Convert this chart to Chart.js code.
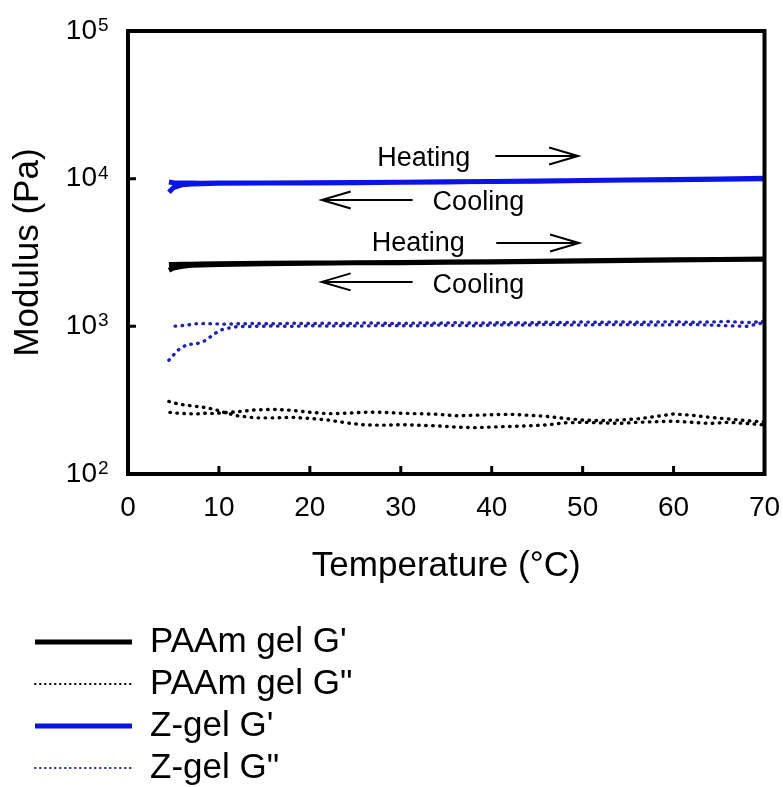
<!DOCTYPE html>
<html><head><meta charset="utf-8">
<script src="https://cdn.jsdelivr.net/npm/chart.js@4/dist/chart.umd.min.js"></script>
<style>html,body{margin:0;padding:0;background:#fff;}</style>
</head><body>
<canvas id="c" width="783" height="787"></canvas>
<script>
const FONT = "'Liberation Sans', Arial, Helvetica, sans-serif";

// ---- data ----
const seriesLabels = ["PAAm gel G'", 'PAAm gel G"', "Z-gel G'", 'Z-gel G"'];

// storage modulus G' (heating up, then cooling down)
const tempGpHeat = [4.5, 5, 6, 7, 8, 10, 15, 20, 25, 30, 35, 40, 45, 50, 55, 60, 65, 70];
const tempGpCool = [70, 65, 60, 55, 50, 45, 40, 35, 30, 25, 20, 15, 10, 8, 7, 6, 5, 4.5];
const paamGpHeat = [2400, 2480, 2550, 2590, 2600, 2620, 2650, 2670, 2690, 2700, 2720, 2730, 2750, 2770, 2790, 2810, 2830, 2850];
const paamGpCool = [2860, 2840, 2820, 2800, 2780, 2760, 2740, 2730, 2710, 2700, 2680, 2670, 2650, 2640, 2630, 2630, 2625, 2620];
const zgelGpHeat = [8100, 8700, 9100, 9200, 9250, 9300, 9330, 9350, 9400, 9450, 9500, 9550, 9620, 9700, 9780, 9850, 9920, 10000];
const zgelGpCool = [10050, 9950, 9880, 9800, 9730, 9650, 9580, 9520, 9470, 9420, 9380, 9350, 9330, 9320, 9330, 9350, 9400, 9500];

// loss modulus G" (values listed in ascending temperature for both runs)
const tempGdd = [4.5, 5.5, 6.5, 7.5, 8.5, 9.5, 10.5, 12, 14, 16, 18, 20, 22, 24, 26, 28, 30, 32, 34, 36, 38, 40, 42, 44, 46, 48, 50, 52, 54, 56, 58, 60, 62, 64, 66, 68, 70];
const paamGddHeat = [310, 298, 292, 287, 282, 274, 262, 248, 240, 240, 242, 238, 232, 222, 215, 214, 216, 214, 212, 208, 206, 208, 210, 212, 215, 222, 224, 222, 220, 224, 226, 228, 224, 220, 224, 220, 215];
const paamGddCool = [262, 258, 256, 255, 258, 257, 260, 264, 272, 274, 270, 262, 256, 258, 262, 262, 258, 256, 254, 248, 250, 252, 254, 250, 246, 238, 232, 230, 232, 236, 245, 255, 250, 242, 236, 230, 225];
const zgelGddHeat = [590, 690, 755, 760, 800, 890, 960, 995, 1000, 1005, 1000, 1010, 1005, 1010, 1005, 1015, 1010, 1010, 1020, 1015, 1010, 1020, 1025, 1020, 1030, 1025, 1020, 1030, 1025, 1030, 1020, 1025, 1030, 1020, 1010, 1000, 1060];
const zgelGddCool = [1000, 1005, 1020, 1040, 1045, 1040, 1035, 1040, 1045, 1040, 1050, 1045, 1050, 1045, 1055, 1050, 1045, 1055, 1050, 1060, 1050, 1055, 1060, 1055, 1065, 1060, 1070, 1065, 1070, 1065, 1070, 1075, 1065, 1070, 1080, 1060, 1080];

// axes
const xMin = 0, xMax = 70, xStep = 10;
const xTickMarks = [10, 20, 30, 40, 50, 60];
const yTickValues = [100, 1000, 10000, 100000];
const yTickBase = '10';
const yTickExponents = ['2', '3', '4', '5'];
const yTickMarks = [1000, 10000];
const xTitle = 'Temperature (°C)';
const yTitle = 'Modulus (Pa)';

// annotations: label, text x (°C), text y (Pa), arrow from/to x (°C), arrow y (Pa)
const annLabels = ['Heating', 'Cooling', 'Heating', 'Cooling'];
const annTextX = [27.4, 33.5, 26.8, 33.5];
const annTextY = [13600, 6850, 3610, 1880];
const annArrowFrom = [40.4, 31.3, 40.5, 31.3];
const annArrowTo = [49.5, 21.3, 49.6, 21.3];
const annArrowY = [14240, 7170, 3670, 2000];

// ---- build ----
const pts = (xs, ys) => xs.map((t, i) => ({x: t, y: ys[i]}));
const rev = a => a.slice().reverse();
const BLUE = '#0a14e6';
const BLUE_DOT = '#1e22b0';

const datasets = [
  {label: seriesLabels[0], data: pts(tempGpHeat, paamGpHeat).concat(pts(tempGpCool, paamGpCool)),
   borderColor: '#000', borderWidth: 5, legendWidth: 5},
  {label: seriesLabels[1], data: pts(tempGdd, paamGddHeat).concat(pts(rev(tempGdd), rev(paamGddCool))),
   borderColor: '#000', borderWidth: 3.4, borderDash: [0.5, 6.5], borderCapStyle: 'round', legendWidth: 2, legendDash: [0.5, 4.5]},
  {label: seriesLabels[2], data: pts(tempGpHeat, zgelGpHeat).concat(pts(tempGpCool, zgelGpCool)),
   borderColor: BLUE, borderWidth: 5, legendWidth: 5},
  {label: seriesLabels[3], data: pts(tempGdd, zgelGddHeat).concat(pts(rev(tempGdd), rev(zgelGddCool))),
   borderColor: BLUE_DOT, borderWidth: 3.4, borderDash: [0.5, 6.5], borderCapStyle: 'round', legendWidth: 2, legendDash: [0.5, 4.5]}
];
datasets.forEach(d => { d.pointRadius = 0; d.fill = false; d.tension = 0; });

const decor = {
  id: 'decor',
  afterDatasetsDraw(chart) {
    const {ctx, chartArea: a, scales: {x, y}} = chart;
    ctx.save();
    ctx.strokeStyle = '#000';
    ctx.fillStyle = '#000';
    // frame
    ctx.lineWidth = 4;
    ctx.lineJoin = 'miter';
    ctx.strokeRect(a.left, a.top, a.right - a.left, a.bottom - a.top);
    // inward tick marks
    ctx.lineWidth = 3;
    ctx.beginPath();
    xTickMarks.forEach(v => { const p = x.getPixelForValue(v); ctx.moveTo(p, a.bottom); ctx.lineTo(p, a.bottom - 8); });
    yTickMarks.forEach(v => { const p = y.getPixelForValue(v); ctx.moveTo(a.left, p); ctx.lineTo(a.left + 8, p); });
    ctx.stroke();
    // y tick labels 10^n
    yTickValues.forEach((v, i) => {
      const p = y.getPixelForValue(v);
      ctx.font = '28px ' + FONT;
      ctx.textAlign = 'right'; ctx.textBaseline = 'middle';
      ctx.fillText(yTickBase, 97, p);
      ctx.font = '19px ' + FONT;
      ctx.textAlign = 'left'; ctx.textBaseline = 'alphabetic';
      ctx.fillText(yTickExponents[i], 98, p);
    });
    // annotations
    ctx.font = '27px ' + FONT;
    ctx.textAlign = 'left'; ctx.textBaseline = 'middle';
    ctx.lineWidth = 2;
    annLabels.forEach((t, i) => {
      ctx.fillText(t, x.getPixelForValue(annTextX[i]), y.getPixelForValue(annTextY[i]));
      const x1 = x.getPixelForValue(annArrowFrom[i]);
      const x2 = x.getPixelForValue(annArrowTo[i]);
      const ay = y.getPixelForValue(annArrowY[i]);
      const dir = Math.sign(x2 - x1);
      ctx.beginPath();
      ctx.moveTo(x1, ay); ctx.lineTo(x2, ay);
      ctx.moveTo(x2 - dir * 29, ay - 8.5); ctx.lineTo(x2, ay); ctx.lineTo(x2 - dir * 29, ay + 8.5);
      ctx.stroke();
    });
    ctx.restore();
  },
  afterDraw(chart) {
    // legend below the plot, one series per row
    const {ctx} = chart;
    ctx.save();
    const rowY = [642, 684, 726, 768];
    chart.data.datasets.forEach((d, i) => {
      const yy = rowY[i];
      ctx.strokeStyle = d.borderColor;
      ctx.lineWidth = d.legendWidth;
      ctx.lineCap = d.legendDash ? 'round' : 'butt';
      ctx.setLineDash(d.legendDash || []);
      ctx.beginPath(); ctx.moveTo(35, yy); ctx.lineTo(132, yy); ctx.stroke();
      ctx.setLineDash([]);
      ctx.fillStyle = '#000';
      ctx.font = '35px ' + FONT;
      ctx.textAlign = 'left'; ctx.textBaseline = 'middle';
      ctx.fillText(d.label, 150, yy);
    });
    ctx.restore();
  }
};

new Chart(document.getElementById('c'), {
  type: 'line',
  data: {datasets},
  options: {
    responsive: false,
    animation: false,
    devicePixelRatio: 1,
    layout: {padding: {top: 31, right: 18.5, left: 0, bottom: 0}},
    plugins: {legend: {display: false}, tooltip: {enabled: false}},
    scales: {
      x: {
        type: 'linear', min: xMin, max: xMax,
        grid: {display: false, drawTicks: false}, border: {display: false},
        ticks: {stepSize: xStep, color: '#000', font: {family: FONT, size: 28}, padding: 17, maxRotation: 0, autoSkip: false},
        title: {display: true, text: xTitle, color: '#000', font: {family: FONT, size: 35}, padding: {top: 0, bottom: 200}},
        afterFit: s => { s.height = 313; s.paddingLeft = 0; s.paddingRight = 0; }
      },
      y: {
        type: 'logarithmic', min: 100, max: 100000,
        grid: {display: false, drawTicks: false}, border: {display: false},
        ticks: {display: false},
        title: {display: true, text: yTitle, color: '#000', font: {family: FONT, size: 35}, padding: {top: 7, bottom: 0}},
        afterFit: s => { s.width = 128; s.paddingTop = 0; s.paddingBottom = 0; }
      }
    }
  },
  plugins: [decor]
});
</script>
</body></html>
